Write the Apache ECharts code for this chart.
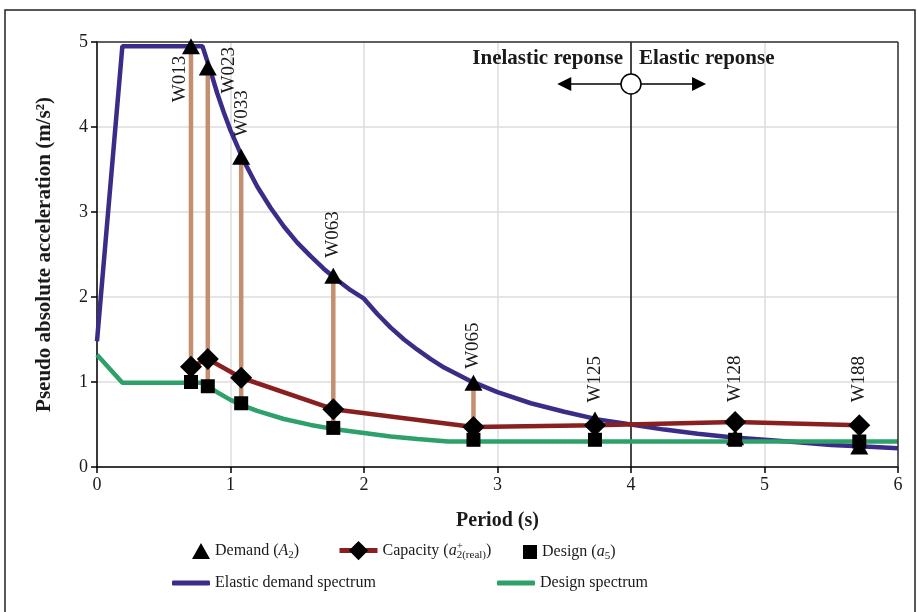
<!DOCTYPE html>
<html>
<head>
<meta charset="utf-8">
<script src="https://cdn.jsdelivr.net/npm/echarts@6/dist/echarts.min.js"></script>
<style>
  html, body { margin: 0; padding: 0; background: #fff; }
  #chart { width: 917px; height: 612px; }
</style>
</head>
<body>
<div id="chart"></div>
<script>
// Wall identifiers and their fundamental periods (s)
const wallIds = ['W013', 'W023', 'W033', 'W063', 'W065', 'W125', 'W128', 'W188'];
const periods = [0.704, 0.83, 1.08, 1.77, 2.82, 3.73, 4.78, 5.71];
// Pseudo absolute accelerations at each wall (m/s²)
const demand = [4.95, 4.70, 3.65, 2.25, 0.99, 0.56, 0.35, 0.24];
const capacity = [1.18, 1.27, 1.05, 0.68, 0.47, 0.49, 0.53, 0.49];
const design = [1.00, 0.95, 0.75, 0.46, 0.32, 0.32, 0.32, 0.30];

// Elastic demand spectrum
const elasticT = [0, 0.19, 0.79, 0.85, 0.9, 0.95, 1.0, 1.1, 1.2, 1.3, 1.4, 1.5, 1.6, 1.7, 1.8, 1.9, 2.0,
  2.1, 2.2, 2.3, 2.4, 2.5, 2.6, 2.8, 3.0, 3.25, 3.5, 3.75, 4.0, 4.25, 4.5, 4.75, 5.0, 5.25, 5.5, 5.75, 6.0];
const elasticSa = [1.48, 4.95, 4.95, 4.66, 4.40, 4.17, 3.96, 3.60, 3.30, 3.05, 2.83, 2.64, 2.48, 2.33, 2.20, 2.08, 1.98,
  1.80, 1.64, 1.50, 1.38, 1.27, 1.17, 1.01, 0.88, 0.75, 0.65, 0.56, 0.50, 0.44, 0.39, 0.35, 0.32, 0.29, 0.26, 0.24, 0.22];

// Design spectrum
const designT = [0, 0.19, 0.79, 0.85, 0.9, 1.0, 1.1, 1.2, 1.4, 1.6, 1.8, 2.0, 2.2, 2.4, 2.63, 6.0];
const designSa = [1.32, 0.99, 0.99, 0.93, 0.88, 0.79, 0.72, 0.66, 0.565, 0.495, 0.44, 0.40, 0.36, 0.33, 0.30, 0.30];

// Axis ticks
const xTicks = [0, 1, 2, 3, 4, 5, 6];
const yTicks = [0, 1, 2, 3, 4, 5];

// Elastic / inelastic boundary period and the level of its marker
const boundaryT = 4;
const boundaryLevel = 4.506;
const arrowEnds = [3.50, 4.51];

// Pixel offsets of the rotated wall labels from their marker
const idOffset = [[-11, 56], [21, 26], [1, -20], [0, -18], [0, -14], [0, -17], [0, -20], [0, -23]];

const FONT = 'Liberation Serif';
const INK = '#1a1a1a';
const C_ELASTIC = '#3b2c88';
const C_DESIGN = '#2ea06a';
const C_CAP = '#8a1f1f';
const C_STEM = '#c48e70';

const pairs = (xs, ys) => xs.map((x, i) => [x, ys[i]]);

const chart = echarts.init(document.getElementById('chart'), null, { renderer: 'canvas' });

const legendText = {
  fontFamily: FONT, fontSize: 16, color: INK,
  rich: {
    n: { fontFamily: FONT, fontSize: 16, color: INK },
    i: { fontFamily: FONT, fontSize: 16, color: INK, fontStyle: 'italic' },
    sub: { fontFamily: FONT, fontSize: 11, color: INK, padding: [9, 0, 0, 0] },
    sup: { fontFamily: FONT, fontSize: 11, color: INK, padding: [0, 0, 8, 0], width: 0 }
  }
};

const legendLabels = {
  'Demand': '{n|Demand (}{i|A}{sub|2}{n|)}',
  'Capacity': '{n|Capacity (}{i|a}{sup|+}{sub|2(real)}{n|)}',
  'Design': '{n|Design (}{i|a}{sub|5}{n|)}',
  'Elastic demand spectrum': '{n|Elastic demand spectrum}',
  'Design spectrum': '{n|Design spectrum}'
};

function legendAt(name, left, top, w, h, extra) {
  return Object.assign({
    data: [name], left: left, top: top, itemWidth: w, itemHeight: h, itemGap: 0,
    selectedMode: false, textStyle: legendText, padding: 0,
    formatter: n => legendLabels[n]
  }, extra || {});
}

const option = {
  animation: false,
  backgroundColor: '#fff',
  textStyle: { fontFamily: FONT },
  grid: { left: 97, right: 19, top: 42, bottom: 145 },
  xAxis: {
    type: 'value', min: xTicks[0], max: xTicks[xTicks.length - 1], interval: 1,
    name: 'Period (s)', nameLocation: 'middle', nameGap: 44,
    nameTextStyle: { fontFamily: FONT, fontSize: 20, fontWeight: 'bold', color: INK },
    axisLine: { lineStyle: { color: '#000', width: 1.5 } },
    axisTick: { show: true, length: 6, lineStyle: { color: '#000', width: 1.5 } },
    axisLabel: { fontFamily: FONT, fontSize: 18, color: INK, margin: 9 },
    splitLine: { show: true, lineStyle: { color: '#dcdcdc', width: 1.5 } }
  },
  yAxis: {
    type: 'value', min: yTicks[0], max: yTicks[yTicks.length - 1], interval: 1,
    name: 'Pseudo absolute acceleration (m/s²)', nameLocation: 'middle', nameGap: 42,
    nameTextStyle: { fontFamily: FONT, fontSize: 21, fontWeight: 'bold', color: INK },
    axisLine: { lineStyle: { color: '#000', width: 1.5 } },
    axisTick: { show: true, length: 6, lineStyle: { color: '#000', width: 1.5 } },
    axisLabel: { fontFamily: FONT, fontSize: 18, color: INK, margin: 9 },
    splitLine: { show: true, lineStyle: { color: '#dcdcdc', width: 1.5 } }
  },
  legend: [
    legendAt('Demand', 192, 543, 18, 16),
    legendAt('Capacity', 337, 541, 38, 24, { lineStyle: { width: 5 } }),
    legendAt('Design', 523, 544, 14, 14),
    legendAt('Elastic demand spectrum', 172, 575, 38, 5, { data: [{ name: 'Elastic demand spectrum', icon: 'roundRect' }] }),
    legendAt('Design spectrum', 497, 575, 38, 5, { data: [{ name: 'Design spectrum', icon: 'roundRect' }] })
  ],
  graphic: [{
    type: 'rect', shape: { x: 5, y: 10, width: 910, height: 660 },
    style: { fill: 'none', stroke: '#222', lineWidth: 1.5 }, silent: true, z: 100
  }],
  series: [
    {
      name: 'Elastic demand spectrum', type: 'line', data: pairs(elasticT, elasticSa),
      showSymbol: false, symbol: 'none', z: 3,
      lineStyle: { color: C_ELASTIC, width: 4.5 }, itemStyle: { color: C_ELASTIC },
      markLine: {
        silent: true, symbol: 'none', label: { show: false }, z: 1,
        lineStyle: { color: '#111', width: 1.5, type: 'solid' },
        data: [{ xAxis: boundaryT }]
      }
    },
    {
      name: 'Design spectrum', type: 'line', data: pairs(designT, designSa),
      showSymbol: false, symbol: 'none', z: 3,
      lineStyle: { color: C_DESIGN, width: 4.5 }, itemStyle: { color: C_DESIGN }
    },
    {
      name: 'stems', type: 'custom', z: 4,
      data: periods.map((t, i) => [t, design[i], demand[i]]),
      renderItem: (params, api) => {
        const a = api.coord([api.value(0), api.value(1)]);
        const b = api.coord([api.value(0), api.value(2)]);
        return {
          type: 'line', shape: { x1: a[0], y1: a[1], x2: b[0], y2: b[1] },
          style: { stroke: C_STEM, lineWidth: 4.5 }
        };
      }
    },
    {
      name: 'Capacity', type: 'line', data: pairs(periods, capacity), z: 5,
      symbol: 'diamond', symbolSize: 22, showSymbol: true,
      lineStyle: { color: C_CAP, width: 4.5 }, itemStyle: { color: '#000', opacity: 1 }
    },
    {
      name: 'Design', type: 'scatter', data: pairs(periods, design), z: 6,
      symbol: 'rect', symbolSize: 14, itemStyle: { color: '#000', opacity: 1 }
    },
    {
      name: 'Demand', type: 'scatter', data: pairs(periods, demand), z: 5,
      symbol: 'triangle', symbolSize: [18, 16], itemStyle: { color: '#000', opacity: 1 }
    },
    {
      name: 'ids', type: 'custom', z: 7, silent: true,
      data: periods.map((t, i) => [t, Math.max(demand[i], capacity[i])]),
      renderItem: (params, api) => {
        const i = params.dataIndex;
        const p = api.coord([api.value(0), api.value(1)]);
        return {
          type: 'text', x: p[0] + idOffset[i][0], y: p[1] + idOffset[i][1], rotation: Math.PI / 2,
          style: { text: wallIds[i], fontFamily: FONT, fontSize: 19, fill: INK, align: 'left', verticalAlign: 'middle' }
        };
      }
    },
    {
      name: 'frame', type: 'line', data: [], z: 2,
      markLine: {
        silent: true, symbol: 'none', label: { show: false },
        lineStyle: { color: '#333', width: 1.5, type: 'solid' },
        data: [{ yAxis: yTicks[yTicks.length - 1] }, { xAxis: xTicks[xTicks.length - 1] }]
      }
    },
    {
      name: 'boundary', type: 'line', data: [], z: 8,
      markLine: {
        silent: true, label: { show: false }, symbol: ['none', 'triangle'], symbolSize: 14,
        lineStyle: { color: '#000', width: 1.5, type: 'solid' },
        data: [
          [{ coord: [boundaryT, boundaryLevel] }, { coord: [arrowEnds[0], boundaryLevel] }],
          [{ coord: [boundaryT, boundaryLevel] }, { coord: [arrowEnds[1], boundaryLevel] }]
        ]
      },
      markPoint: {
        silent: true,
        data: [
          { coord: [boundaryT, boundaryLevel], symbol: 'circle', symbolSize: 20,
            itemStyle: { color: '#fff', borderColor: '#000', borderWidth: 1.5 }, label: { show: false } },
          { coord: [boundaryT, 4.81], symbol: 'circle', symbolSize: 0,
            label: { show: true, position: 'left', distance: 8, formatter: 'Inelastic reponse',
              fontFamily: FONT, fontSize: 21, fontWeight: 'bold', color: INK } },
          { coord: [boundaryT, 4.81], symbol: 'circle', symbolSize: 0,
            label: { show: true, position: 'right', distance: 8, formatter: 'Elastic reponse',
              fontFamily: FONT, fontSize: 21, fontWeight: 'bold', color: INK } }
        ]
      }
    }
  ]
};

chart.setOption(option);
</script>
</body>
</html>
